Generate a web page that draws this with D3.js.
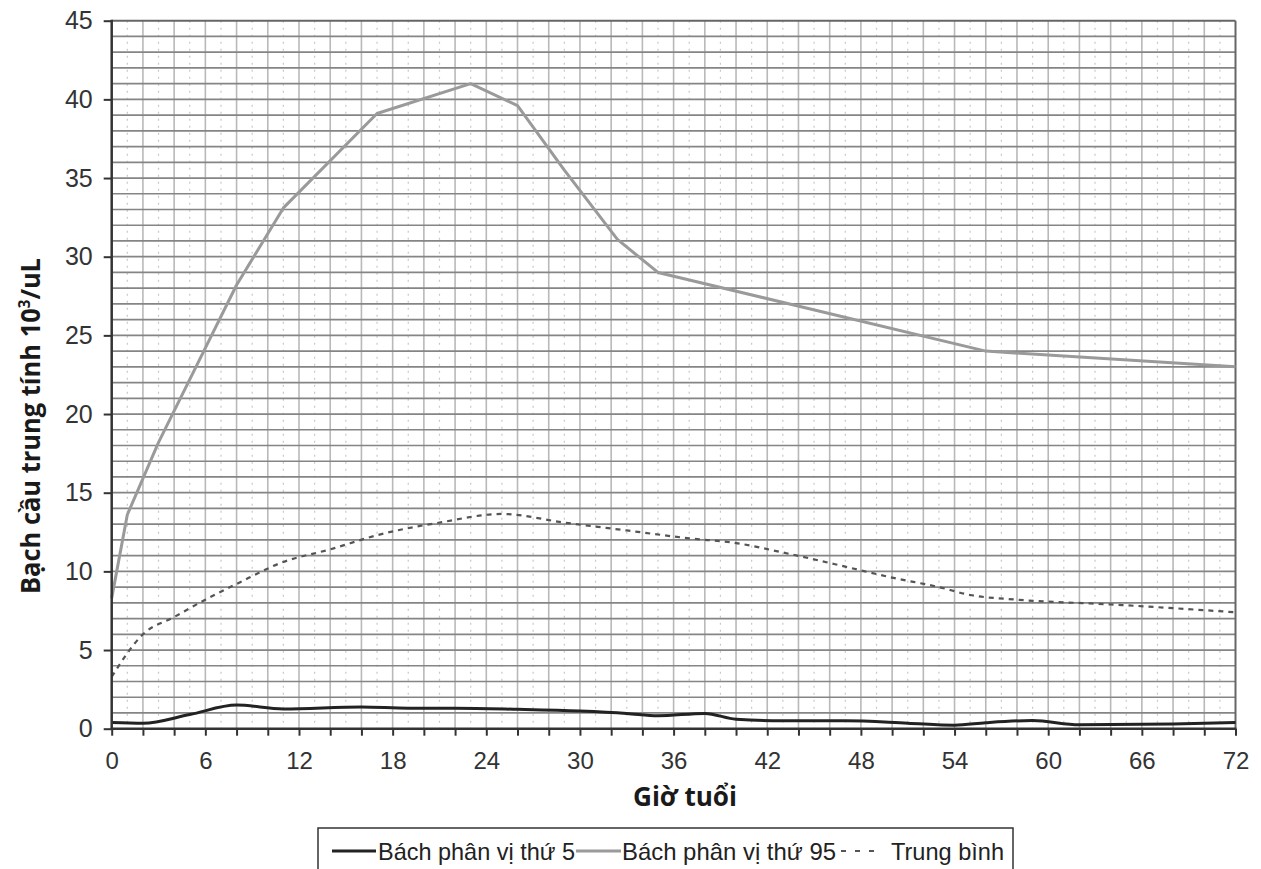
<!DOCTYPE html>
<html>
<head>
<meta charset="utf-8">
<script src="https://cdn.jsdelivr.net/npm/d3@7"></script>
<style>
  html, body { margin: 0; padding: 0; background: #fff; }
  svg { display: block; }
</style>
</head>
<body>
<svg id="chart" width="1261" height="869"></svg>
<script>
// ---------- Data ----------
const hours5   = [0, 2, 5, 8, 11, 16, 19, 22, 26, 30, 33, 35, 38, 40, 43, 47, 51, 54, 56, 59, 62, 68, 72];
const p5       = [0.4, 0.35, 0.9, 1.5, 1.25, 1.38, 1.3, 1.3, 1.23, 1.12, 0.97, 0.82, 0.97, 0.6, 0.5, 0.5, 0.35, 0.22, 0.38, 0.52, 0.25, 0.3, 0.4];

const hours95  = [0, 1, 3, 5.4, 8, 11, 17, 23, 26, 29, 32.4, 35, 56, 72];
const p95      = [8.3, 13.6, 18.2, 23, 28.2, 33.1, 39.1, 41, 39.6, 35.5, 31.1, 29, 24, 23];

const hoursMean = [0, 2, 4, 6, 8, 11, 14, 17, 21, 25, 29, 33, 37, 40, 43, 47, 50, 53, 55, 58, 64, 72];
const meanVals  = [3.3, 6.0, 7.1, 8.2, 9.2, 10.6, 11.4, 12.3, 13.1, 13.65, 13.1, 12.6, 12.1, 11.8, 11.2, 10.3, 9.6, 9.0, 8.5, 8.2, 7.9, 7.4];

const xTickLabels = [0, 6, 12, 18, 24, 30, 36, 42, 48, 54, 60, 66, 72];
const yTickLabels = [0, 5, 10, 15, 20, 25, 30, 35, 40, 45];
const legendLabels = ["Bách phân vị thứ 5", "Bách phân vị thứ 95", "Trung bình"];
const xTitle = "Giờ tuổi";

// ---------- Layout ----------
const svg = d3.select("#chart");
const x = d3.scaleLinear().domain([0, 72]).range([111.7, 1235.5]);
const y = d3.scaleLinear().domain([0, 45]).range([728.7, 20.7]);

// ---------- Grid ----------
const grid = svg.append("g");
grid.selectAll("line.vminor").data(d3.range(1, 72, 2)).join("line")
  .attr("x1", d => x(d)).attr("x2", d => x(d))
  .attr("y1", y(45)).attr("y2", y(0))
  .attr("stroke", "#c8c8c8").attr("stroke-width", 1.2).attr("stroke-dasharray", "2,5");
grid.selectAll("line.vmajor").data(d3.range(2, 72, 2)).join("line")
  .attr("x1", d => x(d)).attr("x2", d => x(d))
  .attr("y1", y(45)).attr("y2", y(0))
  .attr("stroke", "#b9b9b9").attr("stroke-width", 1.6);
grid.selectAll("line.h").data(d3.range(1, 45, 1)).join("line")
  .attr("x1", x(0)).attr("x2", x(72))
  .attr("y1", d => y(d)).attr("y2", d => y(d))
  .attr("stroke", "#858585").attr("stroke-width", 1.7);
grid.append("line").attr("x1", x(0)).attr("x2", x(72)).attr("y1", y(45)).attr("y2", y(45))
  .attr("stroke", "#666").attr("stroke-width", 2);
grid.append("line").attr("x1", x(72)).attr("x2", x(72)).attr("y1", y(45)).attr("y2", y(0))
  .attr("stroke", "#666").attr("stroke-width", 2);

// ---------- Lines ----------
const mk = (hs, vs) => hs.map((h, i) => [h, vs[i]]);
const lineLin = d3.line().x(d => x(d[0])).y(d => y(d[1]));
const lineSmooth = d3.line().x(d => x(d[0])).y(d => y(d[1])).curve(d3.curveMonotoneX);

svg.append("path").datum(mk(hoursMean, meanVals)).attr("d", lineSmooth)
  .attr("fill", "none").attr("stroke", "#555").attr("stroke-width", 2.2).attr("stroke-dasharray", "5,5");
svg.append("path").datum(mk(hours95, p95)).attr("d", lineLin)
  .attr("fill", "none").attr("stroke", "#9a9a9a").attr("stroke-width", 3).attr("stroke-linejoin", "round");
svg.append("path").datum(mk(hours5, p5)).attr("d", lineSmooth)
  .attr("fill", "none").attr("stroke", "#222").attr("stroke-width", 3);

// ---------- Axes ----------
const tickFont = "'Liberation Sans', Arial, sans-serif";
const yAxis = svg.append("g").attr("transform", `translate(${x(0)},0)`)
  .call(d3.axisLeft(y).tickValues(yTickLabels).tickSize(8).tickSizeOuter(0).tickPadding(11));
yAxis.select(".domain").remove();
yAxis.selectAll(".tick line").attr("stroke", "#333").attr("stroke-width", 2);
yAxis.selectAll(".tick text").attr("font-family", tickFont).attr("font-size", 25).attr("fill", "#333");

const xAxis = svg.append("g").attr("transform", `translate(0,${y(0)})`)
  .call(d3.axisBottom(x).tickValues(d3.range(0, 73, 2)).tickSize(7).tickSizeOuter(0).tickPadding(16)
    .tickFormat(d => xTickLabels.includes(d) ? d : ""));
xAxis.select(".domain").remove();
xAxis.selectAll(".tick line").attr("stroke", "#333").attr("stroke-width", 2);
xAxis.selectAll(".tick text").attr("font-family", tickFont).attr("font-size", 24).attr("fill", "#333");

svg.append("line").attr("x1", x(0)).attr("x2", x(0)).attr("y1", y(45) - 1).attr("y2", y(0) + 1)
  .attr("stroke", "#333").attr("stroke-width", 2.5);
svg.append("line").attr("x1", x(0) - 1).attr("x2", x(72) + 1).attr("y1", y(0)).attr("y2", y(0))
  .attr("stroke", "#333").attr("stroke-width", 2.5);

// ---------- Titles ----------
const titleFont = "'Open Sans', 'Noto Sans', sans-serif";
svg.append("text")
  .attr("x", 685).attr("y", 806)
  .attr("text-anchor", "middle")
  .attr("font-family", titleFont).attr("font-weight", 700)
  .attr("font-size", 26).attr("fill", "#1a1a1a")
  .attr("textLength", 104).attr("lengthAdjust", "spacingAndGlyphs")
  .text(xTitle);

const yt = svg.append("text")
  .attr("transform", "translate(40,426) rotate(-90)")
  .attr("text-anchor", "middle")
  .attr("font-family", titleFont).attr("font-weight", 700)
  .attr("font-size", 27).attr("fill", "#1a1a1a")
  .attr("textLength", 336).attr("lengthAdjust", "spacingAndGlyphs");
yt.append("tspan").text("Bạch cầu trung tính 10");
yt.append("tspan").attr("dy", -10).attr("font-size", 16).text("3");
yt.append("tspan").attr("dy", 10).text("/uL");

// ---------- Legend ----------
const lg = svg.append("g");
lg.append("rect").attr("x", 318).attr("y", 828).attr("width", 695).attr("height", 60)
  .attr("fill", "#fff").attr("stroke", "#333").attr("stroke-width", 1.5);
const legFont = "'Liberation Sans Narrow', 'Arial Narrow', 'Liberation Sans', sans-serif";
const legY = 851;
lg.append("line").attr("x1", 332).attr("x2", 376).attr("y1", legY).attr("y2", legY)
  .attr("stroke", "#222").attr("stroke-width", 3);
lg.append("text").attr("x", 378).attr("y", 860).attr("font-family", legFont).attr("font-size", 24)
  .attr("fill", "#222").attr("textLength", 197).attr("lengthAdjust", "spacingAndGlyphs").text(legendLabels[0]);
lg.append("line").attr("x1", 576).attr("x2", 621).attr("y1", legY).attr("y2", legY)
  .attr("stroke", "#9a9a9a").attr("stroke-width", 3);
lg.append("text").attr("x", 622).attr("y", 860).attr("font-family", legFont).attr("font-size", 24)
  .attr("fill", "#222").attr("textLength", 214).attr("lengthAdjust", "spacingAndGlyphs").text(legendLabels[1]);
lg.append("line").attr("x1", 841).attr("x2", 880).attr("y1", legY).attr("y2", legY)
  .attr("stroke", "#555").attr("stroke-width", 2.2).attr("stroke-dasharray", "5,9");
lg.append("text").attr("x", 891).attr("y", 860).attr("font-family", legFont).attr("font-size", 24)
  .attr("fill", "#222").attr("textLength", 113).attr("lengthAdjust", "spacingAndGlyphs").text(legendLabels[2]);
</script>
</body>
</html>
